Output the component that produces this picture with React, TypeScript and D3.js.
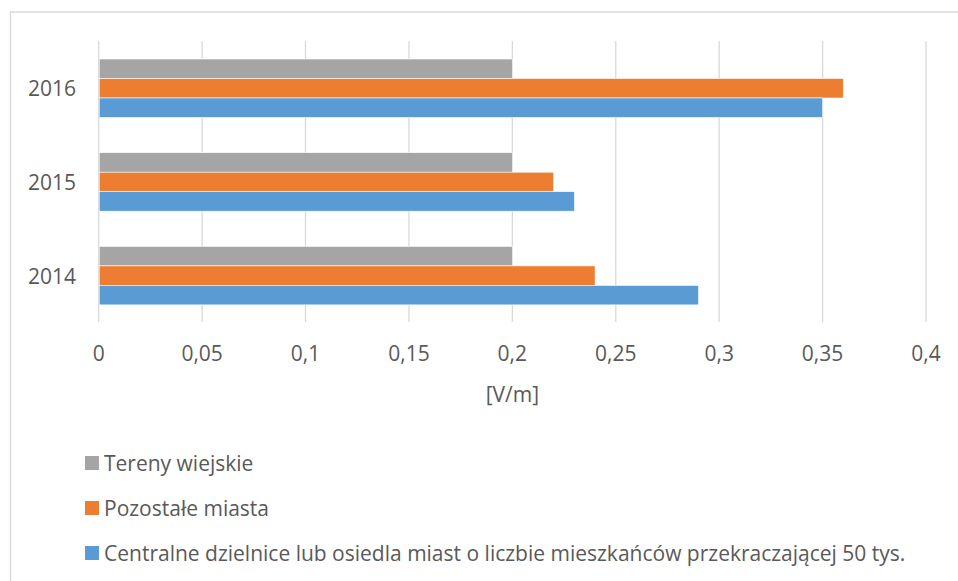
import React from "react";
import * as d3 from "d3";

// Categories (drawn top to bottom) and the three measurement series, in V/m
const years = ["2016", "2015", "2014"];
const seriesNames = [
  "Tereny wiejskie",
  "Pozostałe miasta",
  "Centralne dzielnice lub osiedla miast o liczbie mieszkańców przekraczającej 50 tys.",
];
const seriesColors = ["#A5A5A5", "#ED7D31", "#5B9BD5"];
// values per year, same order as `years`
const terenyWiejskie = [0.2, 0.2, 0.2];
const pozostaleMiasta = [0.36, 0.22, 0.24];
const centralneDzielnice = [0.35, 0.23, 0.29];
const xTicks = [0, 0.05, 0.1, 0.15, 0.2, 0.25, 0.3, 0.35, 0.4];
const axisTitle = "[V/m]";

const W = 958;
const H = 581;
const FONT = "'Open Sans', 'Noto Sans', sans-serif";
const TEXT = "#595959";
const GRID = "#D9D9D9";

export default function App() {
  const seriesValues = [terenyWiejskie, pozostaleMiasta, centralneDzielnice];

  const x = d3.scaleLinear().domain([0, 0.4]).range([98.7, 926]);
  const y = d3
    .scaleBand<string>()
    .domain(years)
    .range([41.4, 322.5])
    .paddingInner(0.376)
    .paddingOuter(0.188);
  const inner = d3
    .scaleBand<string>()
    .domain(seriesNames)
    .range([0, y.bandwidth()]);

  const fmt = (v: number) => (v === 0 ? "0" : d3.format("~g")(v).replace(".", ","));

  const legendY = [463, 508, 553];

  return (
    <div style={{ position: "fixed", left: 0, top: 0 }}>
      <svg width={W} height={H} style={{ display: "block", background: "#fff" }}>
        {/* chart frame */}
        <rect x={10.5} y={12} width={W + 20} height={H + 20} fill="#fff" stroke={GRID} strokeWidth={1.5} />

        {/* vertical gridlines */}
        {xTicks.map((t) => (
          <line
            key={"g" + t}
            x1={x(t)}
            x2={x(t)}
            y1={41}
            y2={322}
            stroke={GRID}
            strokeWidth={1.3}
          />
        ))}

        {/* bars */}
        {years.map((yr, i) => (
          <g key={yr} transform={`translate(0,${y(yr)})`}>
            {seriesNames.map((s, j) => (
              <rect
                key={s}
                x={x(0) + 0.5}
                y={inner(s)}
                width={x(seriesValues[j][i]) - x(0) - 0.5}
                height={inner.bandwidth()}
                fill={seriesColors[j]}
                stroke="#fff"
                strokeWidth={0.6}
              />
            ))}
          </g>
        ))}

        {/* category labels */}
        {years.map((yr) => (
          <text
            key={"l" + yr}
            x={76}
            y={(y(yr) as number) + y.bandwidth() / 2}
            textAnchor="end"
            dominantBaseline="central"
            fontFamily={FONT}
            fontSize={21}
            fill={TEXT}
          >
            {yr}
          </text>
        ))}

        {/* value axis labels */}
        {xTicks.map((t) => (
          <text
            key={"t" + t}
            x={x(t)}
            y={353}
            textAnchor="middle"
            dominantBaseline="central"
            fontFamily={FONT}
            fontSize={21}
            fill={TEXT}
          >
            {fmt(t)}
          </text>
        ))}

        <text
          x={(x(0) + x(0.4)) / 2}
          y={394}
          textAnchor="middle"
          dominantBaseline="central"
          fontFamily={FONT}
          fontSize={21}
          fill={TEXT}
        >
          {axisTitle}
        </text>

        {/* legend */}
        {seriesNames.map((s, j) => (
          <g key={"lg" + s} transform={`translate(0,${legendY[j]})`}>
            <rect x={85} y={-7} width={14} height={14} fill={seriesColors[j]} />
            <text
              x={104}
              y={0}
              dominantBaseline="central"
              fontFamily={FONT}
              fontSize={21}
              fill={TEXT}
            >
              {s}
            </text>
          </g>
        ))}
      </svg>
    </div>
  );
}
